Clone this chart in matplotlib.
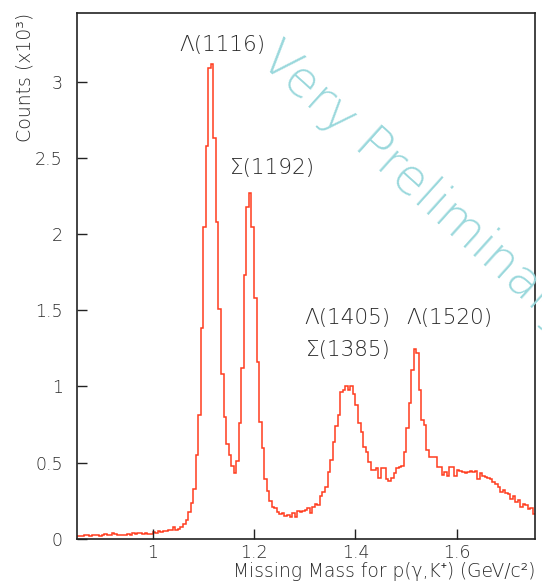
import numpy as np
import matplotlib
matplotlib.use("Agg")
import matplotlib.pyplot as plt

# ---- data (counts in units of 10^3, 5 MeV bins starting at 0.85 GeV) ----
bin_start = 0.85
bin_width = 0.005
counts = [
    # 0.85 - 1.00
    0.020, 0.018, 0.020, 0.022, 0.025, 0.020, 0.028, 0.022, 0.025, 0.020,
    0.027, 0.030, 0.025, 0.028, 0.035, 0.030, 0.025, 0.028, 0.022, 0.025,
    0.030, 0.028, 0.035, 0.030, 0.040, 0.035, 0.030, 0.035, 0.030, 0.030,
    # 1.00 - 1.10
    0.045, 0.040, 0.050, 0.045, 0.050, 0.048, 0.060, 0.055, 0.080, 0.058,
    0.065, 0.075, 0.100, 0.125, 0.175, 0.235, 0.330, 0.550, 0.816, 1.385,
    # 1.10 - 1.20
    2.050, 2.580, 3.090, 3.120, 2.630, 2.080, 1.510, 1.080, 0.800, 0.620,
    0.550, 0.480, 0.430, 0.510, 0.760, 1.120, 1.730, 2.180, 2.270, 2.050,
    # 1.20 - 1.30
    1.580, 1.160, 0.770, 0.595, 0.390, 0.316, 0.246, 0.210, 0.200, 0.175,
    0.165, 0.170, 0.150, 0.155, 0.145, 0.172, 0.140, 0.180, 0.175, 0.185,
    # 1.30 - 1.40
    0.190, 0.200, 0.170, 0.210, 0.230, 0.225, 0.280, 0.310, 0.340, 0.440,
    0.520, 0.634, 0.738, 0.810, 0.964, 0.980, 1.000, 0.975, 1.000, 0.950,
    # 1.40 - 1.50
    0.880, 0.760, 0.700, 0.600, 0.570, 0.507, 0.450, 0.450, 0.466, 0.400,
    0.466, 0.466, 0.390, 0.380, 0.400, 0.430, 0.466, 0.470, 0.480, 0.570,
    # 1.50 - 1.60
    0.730, 0.890, 1.107, 1.243, 1.220, 0.980, 0.780, 0.744, 0.584, 0.540,
    0.540, 0.540, 0.474, 0.474, 0.420, 0.440, 0.415, 0.470, 0.470, 0.410,
    # 1.60 - 1.70
    0.450, 0.445, 0.440, 0.435, 0.440, 0.445, 0.440, 0.445, 0.390, 0.430,
    0.415, 0.405, 0.400, 0.390, 0.370, 0.360, 0.340, 0.305, 0.320, 0.300,
    # 1.70 - 1.755
    0.295, 0.260, 0.280, 0.240, 0.255, 0.210, 0.230, 0.220, 0.196, 0.205,
    0.163,
]
edges = bin_start + bin_width * np.arange(len(counts) + 1)

x_ticks = [1.0, 1.2, 1.4, 1.6]
x_tick_labels = ["1", "1.2", "1.4", "1.6"]
y_ticks = [0, 0.5, 1, 1.5, 2, 2.5, 3]
y_tick_labels = ["0", "0.5", "1", "1.5", "2", "2.5", "3"]

peak_labels = ["Λ(1116)", "Σ(1192)", "Λ(1405)", "Σ(1385)", "Λ(1520)"]
peak_label_pos = [(1.137, 3.24), (1.236, 2.435), (1.385, 1.45), (1.385, 1.24), (1.586, 1.45)]

# ---- figure ----
W, H = 542, 581
fig = plt.figure(figsize=(W / 100, H / 100), dpi=100)
ax = fig.add_axes([76.7 / W, 1 - 538.8 / H, (535.3 - 76.7) / W, (538.8 - 13.3) / H])

txt = "#2a2a2a"
fams = ["DejaVu Sans", "Noto Sans"]
font = dict(family=fams, weight="light", color=txt)

ax.stairs(counts, edges, color="#ff3c1e", lw=1.1, baseline=0)
ax.set_xlim(0.8505, 1.7545)
ax.set_ylim(0, 3.45)

ax.set_xticks(x_ticks)
ax.set_xticklabels(x_tick_labels, fontsize=12.5, **font)
ax.set_yticks(y_ticks)
ax.set_yticklabels(y_tick_labels, fontsize=12.5, **font)
ax.minorticks_off()
ax.tick_params(axis="both", direction="in", length=7.5, width=1.0, color="#222222")
ax.tick_params(axis="x", pad=3.5)
ax.tick_params(axis="y", pad=10)
for sp in ax.spines.values():
    sp.set_color("#222222")
    sp.set_linewidth(1.2)

for t, (x, y) in zip(peak_labels, peak_label_pos):
    ax.text(x, y, t, ha="center", va="center", fontsize=15.5, **font)

# axis titles, ROOT-style (right/top aligned)
fig.text(535.3 / W, 1 - 581 / H, "Missing Mass for p(γ,K⁺) (GeV/c²)",
         ha="right", va="bottom", fontsize=13.4, **font)
fig.text(25 / W, 1 - 13 / H, "Counts (x10³)", rotation=90,
         ha="center", va="top", fontsize=13.6, **font)

# watermark
fig.text(258 / W, 1 - 62 / H, "Very Preliminary", rotation=-42,
         rotation_mode="anchor", ha="left", va="baseline",
         fontsize=36, family=fams, weight="ultralight",
         color="#9ad8dc", zorder=0)

fig.savefig("out.png", dpi=100)
